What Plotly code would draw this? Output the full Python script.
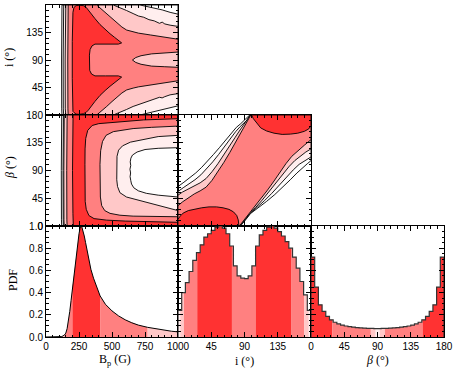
import plotly.graph_objects as go

# ---------------- colours ----------------
RED = 'rgb(255,50,50)'
MED = 'rgb(255,128,128)'
LIGHT = 'rgb(255,200,200)'
PALE = 'rgb(255,238,238)'

# ---------------- 1D PDFs ----------------
BP_GRID = [0, 50, 100, 120, 140, 150, 160, 170, 180, 190, 200, 210, 220, 230, 240, 250, 258, 265,
           272, 280, 290, 300, 320, 340, 360, 380, 410, 450, 500, 550, 600, 650, 700, 770, 850, 900, 950, 1000]
BP_PDF = [0, 0, 0.0, 0.004, 0.018, 0.035, 0.075, 0.14, 0.23, 0.33, 0.44, 0.55, 0.66, 0.77, 0.86, 0.93, 0.98, 1.0,
          0.99, 0.96, 0.91, 0.85, 0.73, 0.61, 0.53, 0.46, 0.37, 0.295, 0.235, 0.19, 0.155, 0.128, 0.107, 0.087,
          0.069, 0.06, 0.052, 0.046]
BP_BANDS = [(100, 140, 'light'), (140, 200, 'med'), (200, 410, 'red'), (410, 770, 'med'), (770, 1000, 'light')]

ANGLE_EDGES = list(range(0, 181, 5))
I_PDF = [0.24, 0.40, 0.49, 0.59, 0.69, 0.76, 0.83, 0.90, 0.93, 0.96, 0.99, 1.0,
         0.98, 0.93, 0.82, 0.64, 0.55, 0.53, 0.525, 0.55, 0.64, 0.82, 0.92, 0.96,
         0.99, 1.0, 0.98, 0.95, 0.91, 0.86, 0.80, 0.72, 0.62, 0.50, 0.38, 0.24]
I_BANDS = [(0, 3, 'pale'), (3, 8, 'light'), (8, 26, 'med'), (26, 73, 'red'), (73, 105, 'med'),
           (105, 153, 'red'), (153, 171, 'med'), (171, 177, 'light'), (177, 180, 'pale')]

BETA_PDF = [0.72, 0.45, 0.29, 0.23, 0.185, 0.155, 0.133, 0.118, 0.107, 0.099, 0.093, 0.089,
            0.085, 0.082, 0.080, 0.078, 0.077, 0.076, 0.076, 0.077, 0.078, 0.080, 0.082, 0.085,
            0.089, 0.093, 0.099, 0.107, 0.118, 0.133, 0.155, 0.185, 0.23, 0.29, 0.45, 0.72]
BETA_BANDS = [(0, 29, 'red'), (29, 81, 'med'), (81, 87.5, 'light'), (87.5, 93, 'pale'), (93, 100, 'light'),
              (100, 151, 'med'), (151, 180, 'red')]

# ---------------- 2D credible contours: Bp (G) vs i (deg) ----------------
BPI_L5 = [(121, 0), (119, 10), (118, 90), (119, 170), (121, 180), (1000, 180), (1000, 0)]
BPI_L4 = [(134, 0), (131, 10), (130, 90), (131, 170), (134, 180), (712, 180), (760, 178), (820, 175), (880, 172),
          (940, 168), (1000, 165), (1000, 15), (940, 12), (880, 8), (820, 5), (760, 2), (712, 0)]
BPI_L3 = [(150, 0), (146, 10), (145, 90), (146, 170), (150, 180), (510, 180), (560, 176), (610, 171), (660, 166),
          (700, 162), (740, 160), (780, 156), (820, 154), (860, 150), (880, 152), (900, 149), (940, 147), (1000, 145),
          (1000, 35), (940, 33), (900, 30), (880, 28), (860, 29), (820, 26), (780, 24), (740, 20), (700, 18),
          (660, 14), (610, 9), (560, 4), (510, 0)]
BPI_L2 = [(168, 0), (166, 10), (165, 90), (166, 170), (168, 180), (384, 180), (420, 173), (460, 166), (500, 158),
          (535, 151), (575, 144), (611, 139), (660, 136), (700, 134), (790, 131), (900, 127), (1000, 124),
          (1000, 103), (900, 102), (800, 100), (720, 97), (680, 94), (655, 90), (680, 86), (720, 83), (800, 80),
          (900, 79), (1000, 78), (1000, 56), (900, 53), (790, 49), (700, 46), (660, 44), (611, 41), (575, 36),
          (535, 29), (500, 22), (460, 14), (420, 7), (384, 0)]
BPI_L1 = [(204, 6), (201, 25), (199, 60), (199, 120), (201, 155), (204, 168), (212, 176), (228, 179), (250, 179.5),
          (283, 179), (305, 176), (321, 172), (345, 166), (370, 158), (409, 148), (448, 140), (485, 133),
          (520, 127), (548, 122), (573, 118), (548, 116), (450, 116), (371, 116), (348, 113), (334, 107),
          (329, 98), (328, 82), (331, 73), (345, 67), (371, 64), (450, 64), (548, 64), (573, 62), (548, 58),
          (520, 53), (485, 47), (448, 40), (409, 32), (370, 22), (345, 14), (321, 8), (305, 4.5), (283, 2),
          (250, 1), (228, 1.5), (212, 4)]

# ---------------- Bp (G) vs beta (deg) ----------------
BPB_L5 = [(119, 0), (117, 10), (116, 90), (117, 170), (119, 180), (1000, 180), (1000, 0)]
BPB_L4 = [(132, 0), (130, 10), (129, 90), (130, 170), (132, 180), (1000, 180), (1000, 127), (850, 126), (750, 124),
          (690, 120), (655, 115), (643, 110), (638, 104), (642, 98), (636, 92), (641, 86), (637, 80), (642, 74),
          (648, 68), (665, 62), (700, 57), (760, 53), (850, 50), (1000, 47), (1000, 0)]
BPB_L3 = [(138, 0), (136, 10), (135, 90), (136, 170), (138, 180), (1000, 180), (1000, 147), (850, 145), (740, 140),
          (640, 136), (580, 130), (550, 123), (538, 113), (535, 95), (536, 75), (542, 64), (560, 54), (610, 47),
          (700, 42), (800, 37), (900, 31), (1000, 25), (1000, 0)]
BPB_L2 = [(160, 0), (158, 10), (157, 90), (158, 170), (160, 180), (1000, 180), (1000, 162), (800, 160), (660, 158),
          (510, 153), (455, 147), (428, 137), (414, 122), (409, 100), (409, 70), (412, 47), (422, 33), (445, 25),
          (485, 20.5), (560, 17.5), (660, 16), (800, 15.5), (1000, 15), (1000, 0)]
BPB_L1 = [(207, 0), (204, 20), (201, 90), (202, 160), (205, 180), (1000, 180), (1000, 174), (740, 172), (490, 168),
          (400, 166), (350, 163), (316, 155), (301, 142), (296, 125), (295, 100), (295, 60), (297, 40), (305, 27),
          (325, 17), (364, 12), (460, 9.5), (600, 8), (740, 7), (1000, 6), (1000, 0)]

# ---------------- i (deg) vs beta (deg) ----------------
IB_L5 = [(0, 0), (0, 64), (8, 71), (16, 78), (24, 86), (32, 95), (40, 105), (48, 116), (56, 127), (64, 139),
         (72, 151), (79, 160), (85, 166), (90, 172), (97, 180), (180, 180), (180, 106), (175, 101), (169, 95),
         (161, 86), (152, 75), (142, 63), (131, 51), (120, 40), (109, 30), (98, 20), (91.5, 10), (84.5, 0)]
IB_L4 = [(0, 0), (0, 56), (7, 62), (15, 68), (23, 75), (31, 83), (39, 93), (47, 104), (55, 116), (63, 129),
         (71, 142), (78, 153), (84, 161), (89, 167), (93.5, 172), (97.5, 180), (180, 180), (180, 112), (171, 106),
         (164, 100), (156, 91), (147, 79), (137, 66), (127, 53), (117, 41), (107, 30), (97.5, 20), (91, 10), (84, 0)]
IB_L3 = [(0, 0), (0, 50), (6, 55), (14, 60), (22, 65), (30, 70), (38, 77), (46, 88), (54, 101), (62, 115),
         (70, 130), (77, 143), (83, 154), (88, 162), (93, 170), (98, 180), (180, 180), (180, 125), (173, 120),
         (166, 114), (158, 106), (150, 96), (142, 84), (133, 70), (124, 56), (114, 42), (105, 30), (97, 20),
         (90.5, 10), (83.5, 0)]
IB_L2 = [(0, 0), (0, 33), (6, 39), (14, 46), (22, 52), (30, 57), (38, 63), (46, 74), (54, 88), (62, 103),
         (70, 119), (77, 134), (83, 147), (88, 157), (93, 167), (98.5, 180), (180, 180), (180, 140), (171, 131),
         (163, 123), (154, 113), (146, 101), (138, 88), (130, 73), (121, 58), (112, 44), (104, 31), (96.5, 20),
         (90, 10), (83, 0)]
IB_L1_TOP = [(99.5, 180), (180, 180), (180, 163), (177, 157.5), (171, 153.5), (162, 150.5), (152, 149),
             (141, 148.5), (130, 150.5), (120, 154), (112, 159), (106, 167), (102, 174)]
IB_L1_BOT = [(0, 0), (0, 11), (3, 16), (7, 21), (14, 25), (22, 27.5), (32, 29.5), (42, 31), (52, 31), (61, 29.5),
             (69, 27), (75, 23), (79.5, 17), (81.5, 10), (82.5, 0)]

# ---------------- tick labels ----------------
BP_TICKS = [0, 250, 500, 750, 1000]
ANG_TICKS = [0, 45, 90, 135, 180]
ANG_INNER_TICKS = [45, 90, 135]
PDF_TICKS = [0, 0.2, 0.4, 0.6, 0.8, 1.0]

COLORS = {'red': RED, 'med': MED, 'light': LIGHT, 'pale': PALE}

fig = go.Figure()


def add_poly(pts, fill, xa, ya):
    xs = [p[0] for p in pts] + [pts[0][0]]
    ys = [p[1] for p in pts] + [pts[0][1]]
    fig.add_trace(go.Scatter(x=xs, y=ys, mode='lines',
                             fill='toself' if fill else 'none',
                             fillcolor=fill if fill else None,
                             line=dict(color='black', width=0.9),
                             xaxis=xa, yaxis=ya, hoverinfo='skip', showlegend=False))


# panel: Bp vs i
add_poly(BPI_L5, None, 'x', 'y')
add_poly(BPI_L4, PALE, 'x', 'y')
add_poly(BPI_L3, LIGHT, 'x', 'y')
add_poly(BPI_L2, MED, 'x', 'y')
add_poly(BPI_L1, RED, 'x', 'y')
# panel: Bp vs beta
add_poly(BPB_L5, None, 'x2', 'y2')
add_poly(BPB_L4, PALE, 'x2', 'y2')
add_poly(BPB_L3, LIGHT, 'x2', 'y2')
add_poly(BPB_L2, MED, 'x2', 'y2')
add_poly(BPB_L1, RED, 'x2', 'y2')
# panel: i vs beta
add_poly(IB_L5, None, 'x3', 'y3')
add_poly(IB_L4, PALE, 'x3', 'y3')
add_poly(IB_L3, LIGHT, 'x3', 'y3')
add_poly(IB_L2, MED, 'x3', 'y3')
add_poly(IB_L1_TOP, RED, 'x3', 'y3')
add_poly(IB_L1_BOT, RED, 'x3', 'y3')

# Bp PDF (smooth)
for a, b, c in BP_BANDS:
    xs = [x for x in BP_GRID if a <= x <= b]
    ys = [BP_PDF[BP_GRID.index(x)] for x in xs]
    fig.add_trace(go.Scatter(x=xs, y=ys, mode='lines', fill='tozeroy', fillcolor=COLORS[c],
                             line=dict(width=0, color=COLORS[c]), xaxis='x4', yaxis='y4',
                             hoverinfo='skip', showlegend=False))
fig.add_trace(go.Scatter(x=BP_GRID, y=BP_PDF, mode='lines', line=dict(color='black', width=1),
                         xaxis='x4', yaxis='y4', hoverinfo='skip', showlegend=False))


def val_at(edges, vals, x):
    k = 0
    for j in range(len(vals)):
        if edges[j] <= x:
            k = j
    return vals[k]


def step_hist(edges, vals, bands, xa, ya):
    for a, b, c in bands:
        xs = [a] + [e for e in edges if a < e < b] + [b]
        ys = [val_at(edges, vals, x) for x in xs[:-1]]
        ys.append(ys[-1])
        fig.add_trace(go.Scatter(x=xs, y=ys, mode='lines', line_shape='hv', fill='tozeroy',
                                 fillcolor=COLORS[c], line=dict(width=0, color=COLORS[c]),
                                 xaxis=xa, yaxis=ya, hoverinfo='skip', showlegend=False))
    xs = [edges[0]] + edges + [edges[-1]]
    ys = [0] + list(vals) + [vals[-1], 0]
    fig.add_trace(go.Scatter(x=xs, y=ys, mode='lines', line_shape='hv',
                             line=dict(color='#333333', width=1.2),
                             xaxis=xa, yaxis=ya, hoverinfo='skip', showlegend=False))


step_hist(ANGLE_EDGES, I_PDF, I_BANDS, 'x5', 'y5')
step_hist(ANGLE_EDGES, BETA_PDF, BETA_BANDS, 'x6', 'y6')

W, H = 458, 375
C1 = [46 / W, 178 / W]
C2 = [178 / W, 311 / W]
C3 = [311 / W, 444 / W]
R1 = [1 - 115 / H, 1 - 5 / H]
R2 = [1 - 226 / H, 1 - 115 / H]
R3 = [1 - 337 / H, 1 - 226 / H]

TICKFONT = dict(family='Liberation Sans, Arial, sans-serif', size=10, color='black')


def axis(domain, rng, anchor, tickvals, minor_dt, labels, ticktext=None):
    d = dict(domain=domain, range=rng, anchor=anchor, showline=True, linecolor='black', linewidth=1,
             mirror='allticks', ticks='inside', ticklen=5, tickwidth=1, tickcolor='black',
             tickmode='array', tickvals=tickvals, showticklabels=labels, automargin=False,
             showgrid=False, zeroline=False, tickfont=TICKFONT, layer='above traces',
             minor=dict(tickmode='linear', tick0=0, dtick=minor_dt, ticks='inside', ticklen=2.5,
                        tickwidth=1, tickcolor='black', showgrid=False))
    if ticktext is not None:
        d['ticktext'] = ticktext
    return d


bp_lab = [str(v) for v in BP_TICKS]
ang_lab = [str(v) for v in ANG_TICKS]
inner_lab = [str(v) for v in ANG_INNER_TICKS]
pdf_lab = ['%.1f' % v for v in PDF_TICKS]

fig.update_layout(
    width=W, height=H, margin=dict(l=0, r=0, t=0, b=0, pad=0, autoexpand=False),
    paper_bgcolor='white', plot_bgcolor='white', showlegend=False,
    xaxis=axis(C1, [0, 1000], 'y', BP_TICKS, 50, False),
    yaxis=axis(R1, [0, 180], 'x', ANG_INNER_TICKS, 9, True, inner_lab),
    xaxis2=axis(C1, [0, 1000], 'y2', BP_TICKS, 50, False),
    yaxis2=axis(R2, [0, 180], 'x2', ANG_TICKS, 9, True, ang_lab),
    xaxis3=axis(C2, [0, 180], 'y3', ANG_TICKS, 9, False),
    yaxis3=axis(R2, [0, 180], 'x3', ANG_TICKS, 9, False),
    xaxis4=axis(C1, [0, 1000], 'y4', BP_TICKS, 50, True, bp_lab),
    yaxis4=axis(R3, [0, 1.0], 'x4', PDF_TICKS, 0.05, True, pdf_lab),
    xaxis5=axis(C2, [0, 180], 'y5', ANG_INNER_TICKS, 9, True, inner_lab),
    yaxis5=axis(R3, [0, 1.0], 'x5', PDF_TICKS, 0.05, False),
    xaxis6=axis(C3, [0, 180], 'y6', ANG_TICKS, 9, True, ang_lab),
    yaxis6=axis(R3, [0, 1.0], 'x6', PDF_TICKS, 0.05, False),
)

TFONT = dict(family='Liberation Serif, Times New Roman, serif', size=12, color='black')
titles = [
    ('i (°)', 9, 58, -90),
    ('<i>β</i> (°)', 10, 168, -90),
    ('PDF', 13, 280, -90),
    ('B<sub>p</sub> (G)', 115, 360, 0),
    ('i (°)', 244, 361, 0),
    ('<i>β</i> (°)', 377, 360, 0),
]
for txt, px, py, ang in titles:
    fig.add_annotation(text=txt, x=px / W, y=1 - py / H, xref='paper', yref='paper', showarrow=False,
                       xanchor='center', yanchor='middle', textangle=ang, font=TFONT)

fig.write_html('out.html', config={'responsive': False, 'displayModeBar': False},
               post_script="document.body.style.margin='0px';document.body.style.padding='0px';"
                           "document.body.style.overflow='hidden';")
